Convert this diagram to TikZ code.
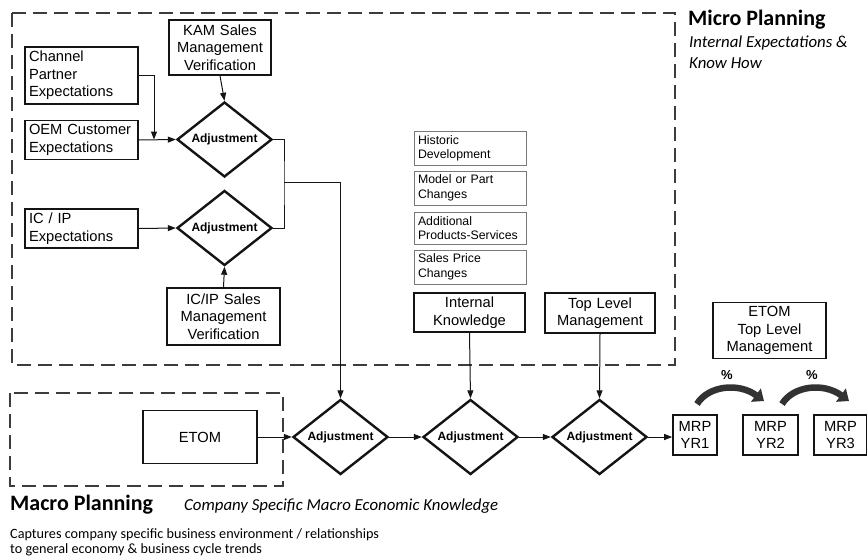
\documentclass[tikz,border=0pt]{standalone}
\usepackage{fontspec}
\setmainfont{Liberation Sans}
\newfontfamily\calibri{Carlito}
\usetikzlibrary{shapes.geometric, arrows.meta, positioning}
\definecolor{mydark}{RGB}{20,20,20}
\definecolor{mydash}{RGB}{60,60,60}
\definecolor{mygray}{RGB}{120,120,120}
\definecolor{myarc}{RGB}{50,50,50}
\tikzset{
  box/.style={rectangle, draw=mydark, line width=1.6pt, align=center,
    font=\fontsize{14.7}{17.5}\selectfont, inner sep=4pt},
  leftbox/.style={box, align=left},
  infobox/.style={rectangle, draw=mygray, line width=0.8pt, align=left,
    font=\fontsize{12.3}{14.5}\selectfont, text width=104pt,
    minimum height=32pt, inner sep=4pt},
  adjust/.style={diamond, draw=mydark, line width=2.4pt, aspect=1.27,
    minimum width=95pt, minimum height=75pt, inner sep=0pt,
    font=\fontsize{12}{14}\selectfont\bfseries},
  region/.style={draw=mydash, line width=2.6pt, dash pattern=on 14pt off 7pt},
  arrow/.style={-{Triangle[length=8pt,width=6pt]}, line width=1pt, color=mydark},
  bigarrow/.style={-{Triangle[length=10pt,width=16pt]}, line width=6.5pt, color=myarc},
  line/.style={line width=1pt, color=mydark},
  title/.style={anchor=base west, inner sep=0pt, font=\calibri\bfseries\fontsize{22}{24}\selectfont},
  subtitle/.style={anchor=base west, inner sep=0pt, font=\calibri\itshape\fontsize{16.8}{19}\selectfont},
  note/.style={anchor=base west, inner sep=0pt, font=\calibri\fontsize{14.2}{16}\selectfont}
}
\begin{document}
\begin{tikzpicture}[x=1pt, y=-1pt]
  \useasboundingbox (0,0) rectangle (867,555);

  % dashed regions
  \draw[region] (12,13) rectangle (675,365);
  \draw[region] (10,393) rectangle (283,486);

  % micro planning inputs
  \node[box, text width=94pt, minimum height=55pt] (kam) at (220,47.5) {KAM Sales\\Management\\Verification};
  \node[leftbox, text width=105pt, minimum height=55pt] (chan) at (81.5,75.5) {Channel\\Partner\\Expectations};
  \node[leftbox, text width=105pt, minimum height=36pt] (oem) at (81.5,140) {OEM Customer\\Expectations};
  \node[leftbox, text width=105pt, minimum height=37pt] (icexp) at (81.5,228.5) {IC / IP\\Expectations};
  \node[box, text width=105pt, minimum height=57pt] (icsales) at (223.5,316.5) {IC/IP Sales\\Management\\Verification};
  \node[adjust] (adj1) at (224.5,139.5) {Adjustment};
  \node[adjust] (adj2) at (224.5,228) {Adjustment};

  % internal know how
  \node[infobox] (hist) at (470,148.5) {Historic\\Development};
  \node[infobox] (model) at (470,188) {Model or Part\\Changes};
  \node[infobox] (addprod) at (470,228) {Additional\\Products-Services};
  \node[infobox] (price) at (470,267) {Sales Price\\Changes};
  \node[box, text width=103pt, minimum height=39pt] (internal) at (469.5,312.5) {Internal\\Knowledge};
  \node[box, text width=102pt, minimum height=40pt] (toplvl) at (600,313) {Top Level\\Management};
  \node[box, text width=105pt, minimum height=55pt] (etomtop) at (769.5,330.5) {ETOM\\Top Level\\Management};

  % macro row
  \node[box, text width=106pt, minimum height=53pt] (etom) at (200,437) {ETOM};
  \node[adjust] (adjA) at (340.5,437) {Adjustment};
  \node[adjust] (adjB) at (470.5,437) {Adjustment};
  \node[adjust] (adjC) at (599.5,437) {Adjustment};
  \node[box, text width=36pt, minimum height=40pt] (mrp1) at (695,435) {MRP\\YR1};
  \node[box, text width=47pt, minimum height=40pt] (mrp2) at (770.5,435) {MRP\\YR2};
  \node[box, text width=45pt, minimum height=40pt] (mrp3) at (840.5,435) {MRP\\YR3};

  % connectors
  \coordinate (join1) at (154,139.5);
  \coordinate (merge) at (284,182);
  \draw[arrow] (chan.east) -| (join1);
  \draw[arrow] (oem.east) -- (adj1.west);
  \draw[arrow] (kam.south) -- (adj1.north);
  \draw[arrow] (icexp.east) -- (adj2.west);
  \draw[arrow] (icsales.north) -- (adj2.south);
  \draw[line] (adj1.east) -| (merge) |- (adj2.east);
  \draw[arrow] (merge) -| (adjA.north);
  \draw[arrow] (internal.south) -- (adjB.north);
  \draw[arrow] (toplvl.south) -- (adjC.north);
  \draw[arrow] (etom.east) -- (adjA.west);
  \draw[arrow] (adjA.east) -- (adjB.west);
  \draw[arrow] (adjB.east) -- (adjC.west);
  \draw[arrow] (adjC.east) -- (adjC.east -| mrp1.west);

  % year to year growth
  \coordinate (g1s) at (697,404);
  \coordinate (g1e) at (764,401);
  \coordinate (g2s) at (782,404);
  \coordinate (g2e) at (849,401);
  \draw[bigarrow] (g1s) .. controls (708,386) and (738,382) .. (g1e);
  \draw[bigarrow] (g2s) .. controls (793,386) and (823,382) .. (g2e);
  \node[font=\fontsize{13}{15}\selectfont\bfseries] (pct1) at (727,375) {\%};
  \node[font=\fontsize{13}{15}\selectfont\bfseries] (pct2) at (812,375) {\%};

  % titles
  \node[title] (microtitle) at (688,25) {Micro Planning};
  \node[subtitle] (microsub1) at (689,47) {Internal Expectations \&};
  \node[subtitle] (microsub2) at (689,68) {Know How};
  \node[title] (macrotitle) at (10,510) {Macro Planning};
  \node[subtitle] (macrosub) at (184,510) {Company Specific Macro Economic Knowledge};
  \node[note] (note1) at (10,538) {Captures company specific business environment / relationships};
  \node[note] (note2) at (10,553) {to general economy \& business cycle trends};
\end{tikzpicture}
\end{document}
